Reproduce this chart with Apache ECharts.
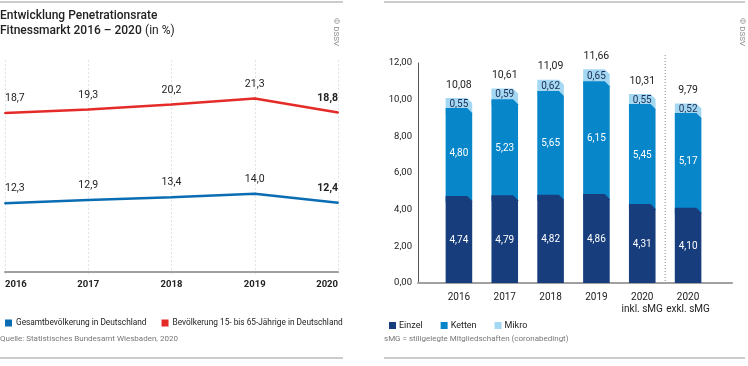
<!DOCTYPE html>
<html><head><meta charset="utf-8">
<script src="https://cdn.jsdelivr.net/npm/echarts@6/dist/echarts.min.js"></script>
<style>html,body{margin:0;padding:0;background:#fff}#c{width:748px;height:366px}</style>
</head><body><div id="c"></div>
<script>
// ---- data ----
const years = ['2016', '2017', '2018', '2019', '2020'];
const gesamt = [12.3, 12.9, 13.4, 14.0, 12.4];
const bev1565 = [18.7, 19.3, 20.2, 21.3, 18.8];
const barCats = ['2016', '2017', '2018', '2019', '2020\ninkl. sMG', '2020\nexkl. sMG'];
const einzel = [4.74, 4.79, 4.82, 4.86, 4.31, 4.10];
const ketten = [4.80, 5.23, 5.65, 6.15, 5.45, 5.17];
const mikro = [0.55, 0.59, 0.62, 0.65, 0.55, 0.52];
const totals = [10.08, 10.61, 11.09, 11.66, 10.31, 9.79];
const separatorBetween = [4, 5];
const barAxisMax = 12;
const barAxisStep = 2;

// ---- styles ----
const FONT = "Roboto, 'Noto Sans', sans-serif";
const C_BLUE = '#0a6db3', C_RED = '#e42b28';
const C_EINZEL = '#173d7c', C_KETTEN = '#0886ca', C_MIKRO = '#a3d7f2';
const TXT = '#222';

const fmt1 = v => v.toFixed(1).replace('.', ',');
const fmt2 = v => v.toFixed(2).replace('.', ',');

// layout of right panel
const B_BOTTOM = 283, B_AXTOP = 63, B_BARTOP = 55;
const barGridMax = barAxisMax * (B_BOTTOM - B_BARTOP) / (B_BOTTOM - B_AXTOP);

function lineData(arr) {
  return arr.map((v, i) => {
    const item = { value: v, label: {} };
    if (i === 0) item.label.align = 'left';
    if (i === arr.length - 1) { item.label.align = 'right'; item.label.fontWeight = 'bold'; }
    return item;
  });
}

function segSeries(name, baseArr, valArr, color, labelColor, extend, z) {
  return {
    type: 'custom', name: name, xAxisIndex: 2, yAxisIndex: 3,
    itemStyle: { color: color }, z: z,
    data: valArr.map((v, i) => [i, baseArr[i], baseArr[i] + v, v]),
    encode: { x: 0, y: [1, 2] },
    renderItem: function (params, api) {
      const i = api.value(0);
      const pTop = api.coord([i, api.value(2)]);
      const pBot = api.coord([i, api.value(1)]);
      const bw = api.size([1, 0])[0] * 0.58;
      const x0 = pTop[0] - bw / 2, x1 = pTop[0] + bw / 2;
      const c = 5;
      const yb = pBot[1] + (extend ? 6 : 0);
      return {
        type: 'group', children: [
          { type: 'polygon', shape: { points: [[x0, yb], [x0, pTop[1]], [x1 - c, pTop[1]], [x1, pTop[1] + c], [x1, yb]] }, style: { fill: color } },
          { type: 'text', x: pTop[0], y: (pTop[1] + pBot[1]) / 2 + 1, style: { text: fmt2(api.value(3)), fill: labelColor, font: '10px ' + FONT, align: 'center', verticalAlign: 'middle' } }
        ]
      };
    }
  };
}

const base0 = einzel.map(() => 0);
const baseK = einzel.slice();
const baseM = einzel.map((v, i) => v + ketten[i]);

const lineLabel = { show: true, position: 'top', distance: 8, color: TXT, fontSize: 10.5, formatter: p => fmt1(p.value) };

const chart = echarts.init(document.getElementById('c'));
chart.setOption({
  animation: false,
  textStyle: { fontFamily: FONT },
  grid: [
    { left: 5, right: 410, top: 60, bottom: 91 },
    { left: 418, right: 16, top: B_AXTOP, bottom: 366 - B_BOTTOM },
    { left: 436, right: 37, top: B_BARTOP, bottom: 366 - B_BOTTOM }
  ],
  xAxis: [
    {
      gridIndex: 0, type: 'category', data: years, boundaryGap: false,
      axisLine: { lineStyle: { color: '#a0a0a0', width: 2 } }, axisTick: { show: false },
      axisLabel: { color: TXT, fontSize: 9.5, fontWeight: 'bold', margin: 5, alignMinLabel: 'left', alignMaxLabel: 'right' },
      splitLine: { show: true, lineStyle: { color: '#dfe3ea', type: [2, 2], width: 1 } }
    },
    {
      gridIndex: 1, type: 'value', min: 0, max: 1,
      axisLine: { show: true, onZero: false, lineStyle: { color: '#a0a0a0', width: 2 } },
      axisTick: { show: false }, axisLabel: { show: false }, splitLine: { show: false }
    },
    {
      gridIndex: 2, type: 'category', data: barCats,
      axisLine: { show: false }, axisTick: { show: false },
      axisLabel: { color: TXT, fontSize: 10, lineHeight: 12, margin: 8, interval: 0 },
      splitLine: { show: false }
    }
  ],
  yAxis: [
    { gridIndex: 0, type: 'value', min: -0.5, max: 37.9, show: false },
    { gridIndex: 0, type: 'value', min: -10.23, max: 28.16, show: false },
    {
      gridIndex: 1, type: 'value', min: 0, max: barAxisMax, interval: barAxisStep,
      axisLine: { show: true, lineStyle: { color: '#555', width: 1 } }, axisTick: { show: false },
      axisLabel: { color: TXT, fontSize: 9.5, margin: 6, formatter: v => fmt2(v) },
      splitLine: { show: false }
    },
    { gridIndex: 2, type: 'value', min: 0, max: barGridMax, show: false }
  ],
  legend: [
    {
      left: 0, top: 314, icon: 'rect', itemWidth: 7, itemHeight: 7, itemGap: 15,
      textStyle: { fontFamily: FONT, fontSize: 8.3, color: TXT, padding: [0, 0, 0, -1] },
      data: ['Gesamtbevölkerung in Deutschland', 'Bevölkerung 15- bis 65-Jährige in Deutschland'],
      selectedMode: false
    },
    {
      left: 384, top: 316, icon: 'rect', itemWidth: 7, itemHeight: 7, itemGap: 18,
      textStyle: { fontFamily: FONT, fontSize: 9, color: TXT, padding: [0, 0, 0, -2] },
      data: ['Einzel', 'Ketten', 'Mikro'], selectedMode: false
    }
  ],
  series: [
    {
      name: 'Gesamtbevölkerung in Deutschland', type: 'line', xAxisIndex: 0, yAxisIndex: 0,
      data: lineData(gesamt), symbol: 'circle', symbolSize: 2, showSymbol: true, color: C_BLUE,
      itemStyle: { color: C_BLUE }, lineStyle: { width: 2.5, color: C_BLUE },
      label: lineLabel
    },
    {
      name: 'Bevölkerung 15- bis 65-Jährige in Deutschland', type: 'line', xAxisIndex: 0, yAxisIndex: 1,
      data: lineData(bev1565), symbol: 'circle', symbolSize: 2, showSymbol: true, color: C_RED,
      itemStyle: { color: C_RED }, lineStyle: { width: 2.5, color: C_RED },
      label: lineLabel
    },
    // empty series so that the axis grid (index 1) is drawn
    { type: 'line', xAxisIndex: 1, yAxisIndex: 2, data: [], silent: true },
    segSeries('Mikro', baseM, mikro, C_MIKRO, '#1d2d55', true, 2),
    segSeries('Ketten', baseK, ketten, C_KETTEN, '#fff', true, 3),
    segSeries('Einzel', base0, einzel, C_EINZEL, '#fff', false, 4),
    {
      type: 'custom', xAxisIndex: 2, yAxisIndex: 3, z: 5, silent: true,
      data: totals.map((v, i) => [i, v]),
      encode: { x: 0, y: 1 },
      renderItem: function (params, api) {
        const p = api.coord([api.value(0), api.value(1)]);
        return { type: 'text', x: p[0], y: p[1] - 13, style: { text: fmt2(api.value(1)), fill: TXT, font: '10.5px ' + FONT, align: 'center', verticalAlign: 'middle' } };
      }
    },
    {
      // dotted separator between "2020 inkl. sMG" and "2020 exkl. sMG"
      type: 'custom', xAxisIndex: 2, yAxisIndex: 3, z: 1, silent: true,
      data: [separatorBetween],
      encode: { x: [0, 1] },
      renderItem: function (params, api) {
        const a = api.coord([api.value(0), 0]);
        const b = api.coord([api.value(1), barGridMax]);
        const x = (a[0] + b[0]) / 2;
        return { type: 'line', shape: { x1: x, y1: b[1], x2: x, y2: a[1] }, style: { stroke: '#888', lineWidth: 1, lineDash: [1, 2] } };
      }
    }
  ],
  graphic: [
    { type: 'line', shape: { x1: 0, y1: 2, x2: 343, y2: 2 }, style: { stroke: '#999', lineWidth: 1.2 } },
    { type: 'line', shape: { x1: 384, y1: 2, x2: 745, y2: 2 }, style: { stroke: '#999', lineWidth: 1.2 } },
    { type: 'line', shape: { x1: 0, y1: 358, x2: 343, y2: 358 }, style: { stroke: '#999', lineWidth: 1.2 } },
    { type: 'line', shape: { x1: 384, y1: 358, x2: 745, y2: 358 }, style: { stroke: '#999', lineWidth: 1.2 } },
    {
      type: 'text', x: 0, y: 8,
      style: {
        text: '{b|Entwicklung Penetrationsrate}\n{b|Fitnessmarkt 2016 – 2020} {r|(in %)}',
        rich: {
          b: { fontFamily: FONT, fontSize: 12, fontWeight: 500, fill: TXT, lineHeight: 15 },
          r: { fontFamily: FONT, fontSize: 12, fontWeight: 'normal', fill: TXT, lineHeight: 15 }
        }
      }
    },
    { type: 'text', x: 340, y: 18, rotation: -Math.PI / 2, style: { text: '© DSSV', font: '8px ' + FONT, fill: '#888', verticalAlign: 'top', align: 'left' } },
    { type: 'text', x: 746, y: 18, rotation: -Math.PI / 2, style: { text: '© DSSV', font: '8px ' + FONT, fill: '#888', verticalAlign: 'top', align: 'left' } },
    { type: 'text', x: 0, y: 339, style: { text: 'Quelle: Statistisches Bundesamt Wiesbaden, 2020', font: '8px ' + FONT, fill: '#777', verticalAlign: 'middle' } },
    { type: 'text', x: 384, y: 339, style: { text: 'sMG = stillgelegte Mitgliedschaften (coronabedingt)', font: '8px ' + FONT, fill: '#777', verticalAlign: 'middle' } }
  ]
});
</script>
</body></html>
